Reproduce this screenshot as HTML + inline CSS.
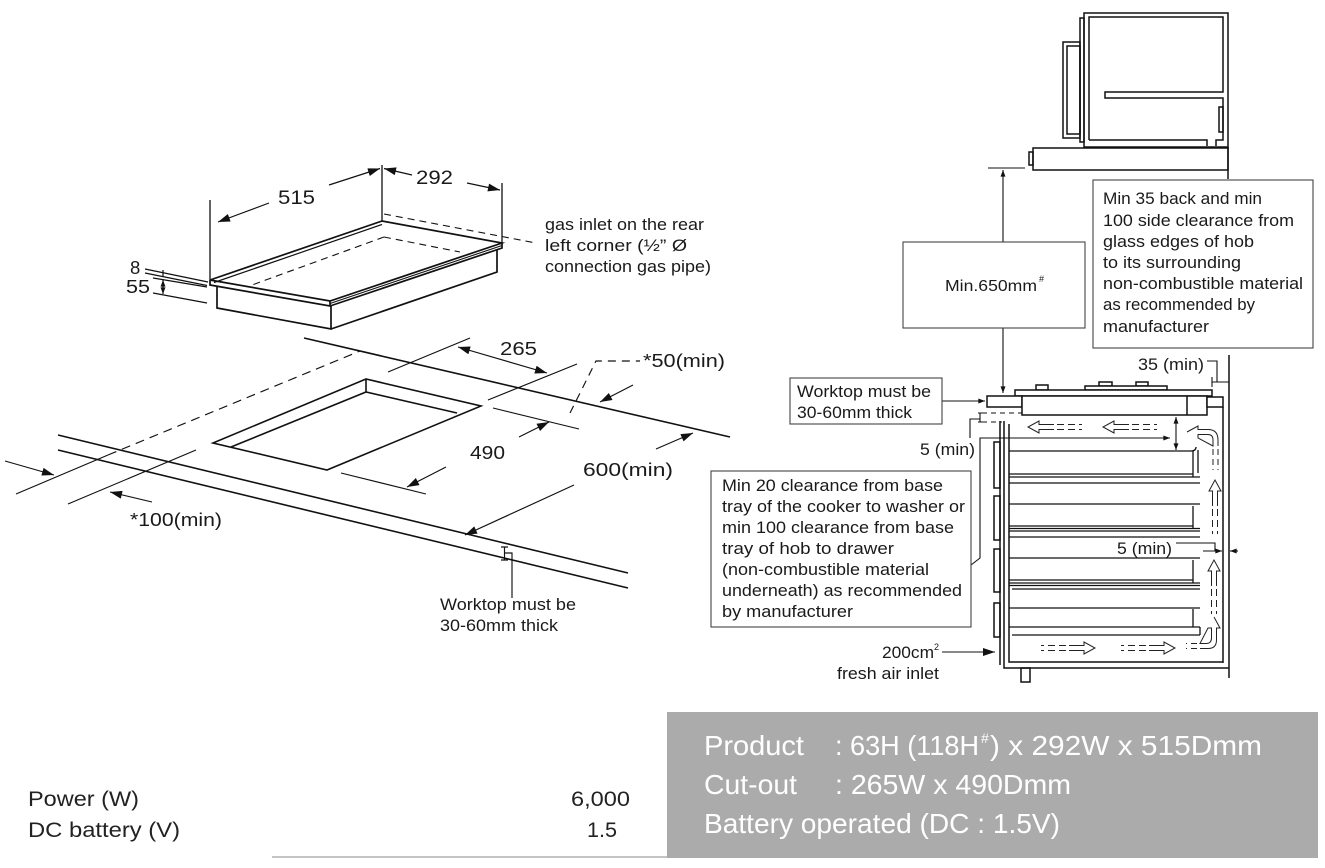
<!DOCTYPE html>
<html><head><meta charset="utf-8"><style>
html,body{margin:0;padding:0;background:#fff;}
svg{display:block;}
text{font-family:"Liberation Sans",Arial,sans-serif;fill:#1a1a1a;}
</style></head><body>
<svg width="1325" height="868" viewBox="0 0 1325 868" xmlns="http://www.w3.org/2000/svg">
<defs>
<marker id="ah" viewBox="0 0 12 8" refX="12" refY="4" markerWidth="13" markerHeight="8" markerUnits="userSpaceOnUse" orient="auto-start-reverse"><path d="M0,0L12,4L0,8z" fill="#111"/></marker>
<marker id="as" viewBox="0 0 8 6" refX="8" refY="3" markerWidth="7" markerHeight="5" markerUnits="userSpaceOnUse" orient="auto-start-reverse"><path d="M0,0L8,3L0,6z" fill="#111"/></marker>
<g id="ha">
<path d="M26,-2.5H11V-6L0,0L11,6V2.5H26" fill="#fff" stroke="#222" stroke-width="1"/>
<path d="M29,-2.5H54M29,2.5H54" stroke="#222" stroke-width="1" stroke-dasharray="7,4" fill="none"/>
</g>
</defs>

<!-- ============ HOB (top-left) ============ -->
<g stroke="#111" stroke-width="1.7" fill="none">
<line x1="382" y1="165" x2="382" y2="226" stroke-width="1.3"/>
<line x1="210" y1="200" x2="210" y2="280" stroke-width="1.3"/>
<line x1="502" y1="183" x2="502" y2="243" stroke-width="1.3"/>
<!-- body -->
<path d="M217,286V308L331,329V305M331,329L497,272V249"/>
<!-- plate -->
<polygon points="382,221 210,280 330,301 502,243" fill="#fff"/>
<line x1="214" y1="282.5" x2="382" y2="224.5" stroke-width="1.2"/>
<path d="M210,280V285L330,306V301M330,306L502,248V243"/>
<line x1="330" y1="303.5" x2="502" y2="245.5" stroke-width="1.1"/>
</g>
<g stroke="#111" stroke-width="1.1" fill="none" stroke-dasharray="7,5">
<line x1="384" y1="214" x2="536" y2="243"/>
<line x1="384" y1="237" x2="252" y2="285"/>
<line x1="384" y1="237" x2="460" y2="252"/>
</g>
<g stroke="#111" stroke-width="1.2" fill="none">
<line x1="329" y1="185" x2="380" y2="168.5" marker-end="url(#ah)"/>
<line x1="269" y1="203" x2="218" y2="222" marker-end="url(#ah)"/>
<line x1="412" y1="175" x2="384" y2="168.5" marker-end="url(#ah)"/>
<line x1="467" y1="183" x2="500" y2="190" marker-end="url(#ah)"/>
<!-- 8 / 55 -->
<line x1="145" y1="269" x2="208" y2="282"/>
<line x1="145" y1="273" x2="207" y2="285.5"/>
<line x1="153" y1="278" x2="207" y2="287"/>
<line x1="153" y1="293" x2="207" y2="303"/>
<line x1="163" y1="270" x2="163" y2="277"/>
<line x1="163" y1="280" x2="163" y2="294" marker-start="url(#as)" marker-end="url(#as)"/>
</g>
<text x="278" y="204" font-size="19.5" textLength="37" lengthAdjust="spacingAndGlyphs">515</text>
<text x="416" y="184" font-size="19.5" textLength="37" lengthAdjust="spacingAndGlyphs">292</text>
<text x="130" y="274" font-size="18.5">8</text>
<text x="126" y="293" font-size="18.5" textLength="24" lengthAdjust="spacingAndGlyphs">55</text>
<text font-size="16.5">
<tspan x="545" y="230" textLength="159" lengthAdjust="spacingAndGlyphs">gas inlet on the rear</tspan>
<tspan x="545" y="251" textLength="142" lengthAdjust="spacingAndGlyphs">left corner (½” Ø</tspan>
<tspan x="545" y="272" textLength="166" lengthAdjust="spacingAndGlyphs">connection gas pipe)</tspan>
</text>

<!-- ============ CUT-OUT (middle-left) ============ -->
<g stroke="#111" stroke-width="1.6" fill="none">
<line x1="304" y1="338" x2="730" y2="437"/>
<line x1="58" y1="435" x2="628" y2="573"/>
<line x1="58" y1="450" x2="628" y2="588"/>
<polygon points="213,443 366,379 481,406 327,470"/>
<polyline points="231,447 366,392 457,413"/>
<line x1="366" y1="379" x2="366" y2="392"/>
</g>
<g stroke="#111" stroke-width="1.15" fill="none">
<line x1="16" y1="494" x2="108" y2="455"/>
<line x1="108" y1="455" x2="360" y2="351" stroke-dasharray="9,6"/>
<line x1="68" y1="504" x2="196" y2="450"/>
<line x1="5" y1="461" x2="54" y2="475" marker-end="url(#ah)"/>
<line x1="152" y1="502" x2="110" y2="492" marker-end="url(#ah)"/>
<line x1="388" y1="372" x2="470" y2="338"/>
<line x1="488" y1="400" x2="577" y2="364"/>
<line x1="458" y1="347" x2="547" y2="373" marker-start="url(#ah)" marker-end="url(#ah)"/>
<line x1="493" y1="408" x2="579" y2="429"/>
<line x1="341" y1="473" x2="426" y2="494"/>
<line x1="519" y1="437" x2="549" y2="422" marker-end="url(#ah)"/>
<line x1="446" y1="467" x2="407" y2="487" marker-end="url(#ah)"/>
<polyline points="570,413 596,361 640,361" stroke-dasharray="8,6"/>
<line x1="633" y1="385" x2="600" y2="402" marker-end="url(#ah)"/>
<line x1="656" y1="449" x2="693" y2="433" marker-end="url(#ah)"/>
<line x1="574" y1="485" x2="465" y2="535" marker-end="url(#ah)"/>
<path d="M501,547H508M504.5,547V560M501,560H508"/>
<path d="M505,553H512V598"/>
</g>
<text x="500" y="355" font-size="18.5" textLength="37" lengthAdjust="spacingAndGlyphs">265</text>
<text x="643" y="367" font-size="18.5" textLength="82" lengthAdjust="spacingAndGlyphs">*50(min)</text>
<text x="470" y="459" font-size="18.5" textLength="35" lengthAdjust="spacingAndGlyphs">490</text>
<text x="583" y="476" font-size="18.5" textLength="90" lengthAdjust="spacingAndGlyphs">600(min)</text>
<text x="130" y="526" font-size="18.5" textLength="92" lengthAdjust="spacingAndGlyphs">*100(min)</text>
<text x="440" y="610" font-size="16.5" textLength="136" lengthAdjust="spacingAndGlyphs">Worktop must be</text>
<text x="440" y="631" font-size="16.5" textLength="118" lengthAdjust="spacingAndGlyphs">30-60mm thick</text>

<!-- ============ RIGHT ELEVATION ============ -->
<g stroke="#111" stroke-width="1.5" fill="none">
<!-- top cabinet -->
<rect x="1084" y="13" width="144" height="134"/>
<path d="M1089,140V17H1223V92H1105V98H1223V140H1216V146"/>
<path d="M1089,140H1207V146"/>
<rect x="1219" y="107" width="4" height="25"/>
<rect x="1080" y="18" width="4" height="124"/>
<rect x="1063" y="42" width="17" height="96"/>
<rect x="1067" y="46" width="13" height="88"/>
<rect x="1033" y="148" width="195" height="22" fill="#fff"/>
<rect x="1029" y="152" width="4" height="13"/>
<line x1="1228" y1="147" x2="1228" y2="179"/>
</g>
<g stroke="#111" stroke-width="1.1" fill="none">
<line x1="988" y1="168" x2="1025" y2="168"/>
<line x1="1003" y1="170" x2="1003" y2="393" marker-start="url(#as)" marker-end="url(#as)"/>
</g>
<rect x="903" y="242" width="182" height="86" fill="#fff" stroke="#444" stroke-width="1.1"/>
<text x="945" y="291" font-size="15.5" textLength="92" lengthAdjust="spacingAndGlyphs">Min.650mm</text>
<text x="1039" y="282" font-size="9">#</text>

<rect x="1093" y="180" width="220" height="168" fill="#fff" stroke="#444" stroke-width="1.1"/>
<text font-size="17">
<tspan x="1103" y="204" textLength="159" lengthAdjust="spacingAndGlyphs">Min 35 back and min</tspan>
<tspan x="1103" y="226" textLength="191" lengthAdjust="spacingAndGlyphs">100 side clearance from</tspan>
<tspan x="1103" y="247" textLength="151" lengthAdjust="spacingAndGlyphs">glass edges of hob</tspan>
<tspan x="1103" y="268" textLength="138" lengthAdjust="spacingAndGlyphs">to its surrounding</tspan>
<tspan x="1103" y="289" textLength="200" lengthAdjust="spacingAndGlyphs">non-combustible material</tspan>
<tspan x="1103" y="310" textLength="152" lengthAdjust="spacingAndGlyphs">as recommended by</tspan>
<tspan x="1103" y="332" textLength="106" lengthAdjust="spacingAndGlyphs">manufacturer</tspan>
</text>

<text x="1138" y="370" font-size="16.5" textLength="66" lengthAdjust="spacingAndGlyphs">35 (min)</text>
<g stroke="#111" stroke-width="1.1" fill="none">
<polyline points="1207,361 1217,361 1217,382"/>
<line x1="1212" y1="377" x2="1212" y2="387"/>
<line x1="1212" y1="382" x2="1229" y2="382"/>
</g>

<!-- hob elevation -->
<g stroke="#111" stroke-width="1.5" fill="#fff">
<rect x="1036" y="385" width="12" height="5"/>
<rect x="1099" y="382" width="13" height="4"/>
<rect x="1136" y="382" width="12" height="4"/>
<rect x="1085" y="386" width="82" height="4"/>
<rect x="1015" y="390" width="197" height="6"/>
<rect x="987" y="396" width="35" height="11"/>
<rect x="1022" y="396" width="185" height="19"/>
<line x1="1187" y1="396" x2="1187" y2="415"/>
<rect x="1207" y="397" width="16" height="10"/>
</g>
<g stroke="#111" stroke-width="1.5" fill="none">
<line x1="1229" y1="355" x2="1229" y2="678"/>
<line x1="1223" y1="407" x2="1223" y2="663"/>
<!-- cabinet -->
<path d="M1004,421V668H1229"/>
<path d="M1009,424V662H1223"/>
<line x1="1000" y1="421" x2="1000" y2="665"/>
<rect x="994" y="442" width="6" height="46"/>
<rect x="994" y="496" width="6" height="44"/>
<rect x="994" y="549" width="6" height="43"/>
<rect x="994" y="603" width="6" height="34"/>
<rect x="1021" y="668" width="9" height="14"/>
</g>
<g stroke="#111" stroke-width="1.3" fill="none">
<path d="M1009,451H1191Q1196,451 1196,447"/>
<line x1="1193" y1="451" x2="1193" y2="477"/>
<line x1="1198" y1="450" x2="1198" y2="473"/>
<line x1="1009" y1="474" x2="1193" y2="474"/>
<line x1="1009" y1="477" x2="1200" y2="477"/>
<line x1="1009" y1="483" x2="1200" y2="483"/>
<line x1="1009" y1="504" x2="1200" y2="504"/>
<line x1="1193" y1="506" x2="1193" y2="528"/>
<line x1="1009" y1="526" x2="1193" y2="526"/>
<line x1="1009" y1="528.5" x2="1200" y2="528.5"/>
<line x1="1009" y1="531" x2="1200" y2="531"/>
<line x1="1009" y1="537" x2="1200" y2="537"/>
<line x1="1009" y1="558" x2="1200" y2="558"/>
<line x1="1193" y1="560" x2="1193" y2="583"/>
<line x1="1009" y1="580" x2="1193" y2="580"/>
<line x1="1009" y1="583" x2="1200" y2="583"/>
<line x1="1009" y1="585.5" x2="1200" y2="585.5"/>
<line x1="1012" y1="589" x2="1200" y2="589"/>
<line x1="1009" y1="608" x2="1200" y2="608"/>
<line x1="1193" y1="609" x2="1193" y2="627"/>
<line x1="1009" y1="627" x2="1200" y2="627"/>
<line x1="1012" y1="635" x2="1200" y2="635"/>
<line x1="1200" y1="627" x2="1200" y2="635"/>
</g>
<!-- airflow arrows -->
<use href="#ha" transform="translate(1028,427)"/>
<use href="#ha" transform="translate(1103,427)"/>
<use href="#ha" transform="translate(1095,648) rotate(180)"/>
<use href="#ha" transform="translate(1175,648) rotate(180)"/>
<use href="#ha" transform="translate(1214,560) rotate(90)"/>
<use href="#ha" transform="translate(1215,480) rotate(90)"/>
<g stroke="#222" stroke-width="1" fill="#fff">
<path d="M1214,617L1220,628H1216.5V640Q1216.5,648.5 1208,648.5H1200M1200,643.5H1206Q1211.5,643.5 1211.5,638V628H1208Z"/>
<path d="M1187,432L1198,426V429.5H1208Q1218,429.5 1218,440V446M1213,446V440Q1213,434.5 1208,434.5H1198V438Z"/>
</g>
<g stroke="#222" stroke-width="1" fill="none" stroke-dasharray="6,4">
<path d="M1197,648.5H1186M1197,643.5H1186"/>
<path d="M1218,449V470M1213,449V470"/>
</g>
<!-- dimension / leaders -->
<g stroke="#111" stroke-width="1.1" fill="none">
<line x1="1176" y1="417" x2="1176" y2="450" marker-start="url(#as)" marker-end="url(#as)"/>
<polyline points="971,565 980,558 980,438 1170,438" marker-end="url(#as)"/>
<path d="M982,413H1022M982,422H1002" stroke-dasharray="5,4"/>
<path d="M978,413H982M980,413V422M978,422H982"/>
<polyline points="980,419 970,419 970,438"/>
<polyline points="1176,543 1215,543 1215,551"/>
<line x1="1203" y1="551" x2="1222" y2="551" marker-end="url(#as)"/>
<line x1="1238" y1="551" x2="1230" y2="551" marker-end="url(#as)"/>
<line x1="942" y1="652" x2="995" y2="652" marker-end="url(#ah)"/>
<line x1="942" y1="401" x2="985" y2="401" marker-end="url(#as)"/>
</g>
<text x="920" y="455" font-size="16.5" textLength="55" lengthAdjust="spacingAndGlyphs">5 (min)</text>
<text x="1117" y="554" font-size="16.5" textLength="55" lengthAdjust="spacingAndGlyphs">5 (min)</text>

<rect x="790" y="378" width="152" height="46" fill="#fff" stroke="#444" stroke-width="1.1"/>
<text x="797" y="397" font-size="16.5" textLength="134" lengthAdjust="spacingAndGlyphs">Worktop must be</text>
<text x="797" y="418" font-size="16.5" textLength="115" lengthAdjust="spacingAndGlyphs">30-60mm thick</text>

<rect x="711" y="471" width="260" height="156" fill="#fff" stroke="#444" stroke-width="1.1"/>
<text font-size="17">
<tspan x="722" y="491" textLength="221" lengthAdjust="spacingAndGlyphs">Min 20 clearance from base</tspan>
<tspan x="722" y="512" textLength="243" lengthAdjust="spacingAndGlyphs">tray of the cooker to washer or</tspan>
<tspan x="722" y="533" textLength="232" lengthAdjust="spacingAndGlyphs">min 100 clearance from base</tspan>
<tspan x="722" y="554" textLength="172" lengthAdjust="spacingAndGlyphs">tray of hob to drawer</tspan>
<tspan x="722" y="575" textLength="207" lengthAdjust="spacingAndGlyphs">(non-combustible material</tspan>
<tspan x="722" y="596" textLength="240" lengthAdjust="spacingAndGlyphs">underneath) as recommended</tspan>
<tspan x="722" y="617" textLength="131" lengthAdjust="spacingAndGlyphs">by manufacturer</tspan>
</text>
<text x="882" y="658" font-size="16.5" textLength="52" lengthAdjust="spacingAndGlyphs">200cm</text>
<text x="934" y="650" font-size="9">2</text>
<text x="837" y="679" font-size="16.5" textLength="102" lengthAdjust="spacingAndGlyphs">fresh air inlet</text>

<!-- ============ BOTTOM ============ -->
<line x1="272" y1="857" x2="667" y2="857" stroke="#c4c4c4" stroke-width="2"/>
<rect x="667" y="712" width="651" height="146" fill="#ababab"/>
<g font-size="28" style="fill:#fff">
<text x="704" y="755" style="fill:#fff" textLength="100" lengthAdjust="spacingAndGlyphs">Product</text>
<text x="835" y="755" style="fill:#fff" textLength="144" lengthAdjust="spacingAndGlyphs">: 63H (118H</text>
<text x="981" y="743" style="fill:#fff" font-size="14">#</text>
<text x="990" y="755" style="fill:#fff" textLength="272" lengthAdjust="spacingAndGlyphs">) x 292W x 515Dmm</text>
<text x="704" y="794" style="fill:#fff" textLength="93" lengthAdjust="spacingAndGlyphs">Cut-out</text>
<text x="835" y="794" style="fill:#fff" textLength="236" lengthAdjust="spacingAndGlyphs">: 265W x 490Dmm</text>
<text x="704" y="833" style="fill:#fff" textLength="356" lengthAdjust="spacingAndGlyphs">Battery operated (DC : 1.5V)</text>
</g>
<text x="28" y="806" font-size="21" textLength="111" lengthAdjust="spacingAndGlyphs" style="fill:#222">Power (W)</text>
<text x="28" y="837" font-size="21" textLength="152" lengthAdjust="spacingAndGlyphs" style="fill:#222">DC battery (V)</text>
<text x="571" y="806" font-size="21" textLength="59" lengthAdjust="spacingAndGlyphs" style="fill:#222">6,000</text>
<text x="587" y="837" font-size="21" textLength="30" lengthAdjust="spacingAndGlyphs" style="fill:#222">1.5</text>
</svg>
</body></html>
